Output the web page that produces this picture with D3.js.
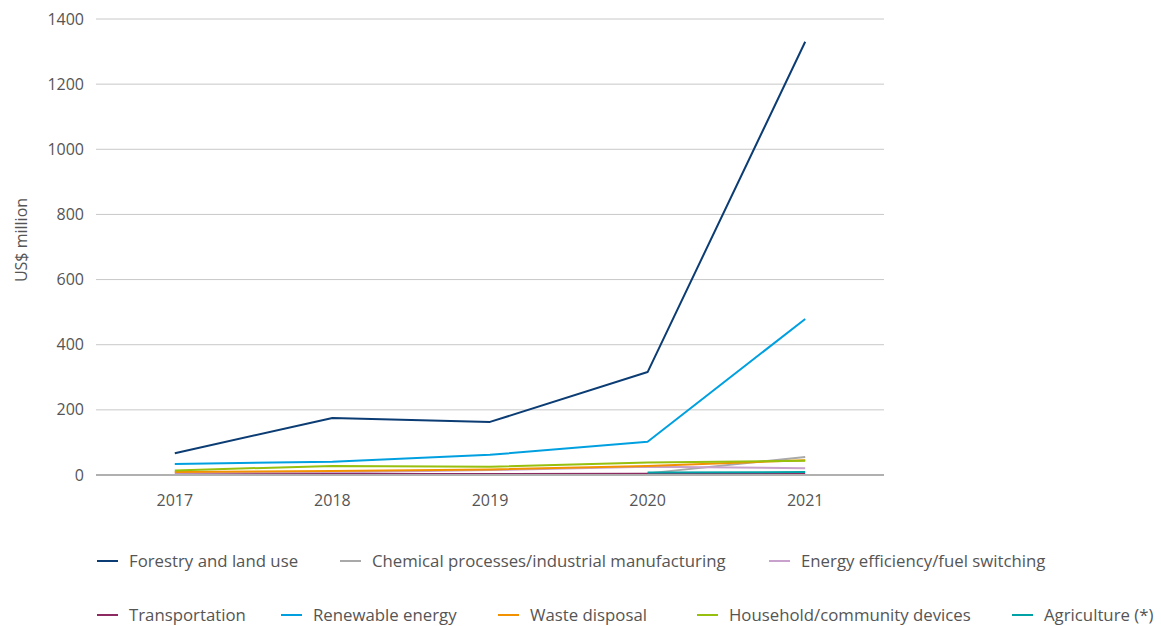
<!DOCTYPE html>
<html><head><meta charset="utf-8">
<script src="https://cdn.jsdelivr.net/npm/d3@7"></script>
<style>body{margin:0;background:#fff;} text{font-family:"Open Sans",sans-serif;}</style>
</head><body>
<svg id="c" width="1161" height="626"></svg>
<script>
const years = ["2017","2018","2019","2020","2021"];
const yTicks = [0,200,400,600,800,1000,1200,1400];
const seriesNames = ["Forestry and land use","Chemical processes/industrial manufacturing","Energy efficiency/fuel switching","Transportation","Renewable energy","Waste disposal","Household/community devices","Agriculture (*)"];
const seriesColors = ["#0b3c73","#a9a9a9","#c8a2cc","#8c2a61","#00a0e0","#f39200","#97bf0d","#00a2a6"];
const forestry = [67,175,163,316,1330];
const chemical = [null,null,null,5,55];
const energyEff = [7,8,15,25,21];
const transport = [1,3,3,4,4];
const renewable = [34,41,62,102,479];
const waste = [9,12,17,28,45];
const household = [14,28,25,38,44];
const agriculture = [null,null,null,8,9];
const seriesValues = [forestry,chemical,energyEff,transport,renewable,waste,household,agriculture];

const svg = d3.select("#c");
const x = d3.scalePoint().domain(years).range([96,884]).padding(0.5);
const y = d3.scaleLinear().domain([0,1400]).range([475,19]);

svg.append("g").selectAll("line").data(yTicks.filter(d=>d>0)).join("line")
  .attr("x1",96).attr("x2",884).attr("y1",d=>y(d)).attr("y2",d=>y(d))
  .attr("stroke","#c8c8c8").attr("stroke-width",1);
svg.append("g").selectAll("text").data(yTicks).join("text")
  .attr("x",84).attr("y",d=>y(d)).attr("dy","0.35em").attr("text-anchor","end")
  .attr("font-size",16).attr("fill","#555").text(d=>d);
svg.append("text").attr("transform","translate(21,240) rotate(-90)")
  .attr("text-anchor","middle").attr("dy","0.35em").attr("font-size",16).attr("fill","#555").text("US$ million");
svg.append("g").selectAll("text").data(years).join("text")
  .attr("x",d=>x(d)).attr("y",500).attr("dy","0.35em").attr("text-anchor","middle")
  .attr("font-size",16).attr("fill","#555").text(d=>d);

const line = d3.line().defined(d=>d.v!=null).x(d=>x(d.yr)).y(d=>y(d.v));
seriesValues.forEach((vals,i)=>{
  svg.append("path").datum(vals.map((v,j)=>({yr:years[j],v})))
    .attr("fill","none").attr("stroke",seriesColors[i]).attr("stroke-width",2)
    .attr("stroke-linejoin","round").attr("d",line);
});
svg.append("line").attr("x1",96).attr("x2",884).attr("y1",y(0)).attr("y2",y(0))
  .attr("stroke","#b0b0b0").attr("stroke-width",2);

const legendPos = [[97,561],[340,561],[769,561],[97,615],[281,615],[498,615],[697,615],[1012,615]];
seriesNames.forEach((n,i)=>{
  const [lx,ly] = legendPos[i];
  const g = svg.append("g");
  g.append("line").attr("x1",lx).attr("x2",lx+21).attr("y1",ly).attr("y2",ly)
    .attr("stroke",seriesColors[i]).attr("stroke-width",2);
  g.append("text").attr("x",lx+32).attr("y",ly).attr("dy","0.35em")
    .attr("font-size",16.8).attr("fill","#555").text(n);
});
</script>
</body></html>
